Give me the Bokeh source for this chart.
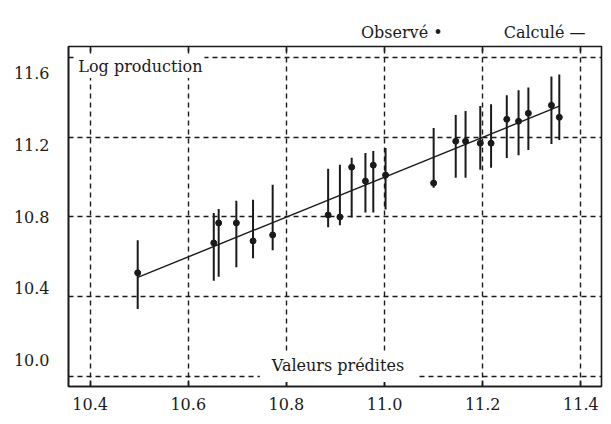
from bokeh.plotting import figure
from bokeh.models import (LinearAxis, Range1d, FixedTicker, Grid, Label,
                          NumeralTickFormatter, ColumnDataSource,
                          CustomJSTickFormatter)
from bokeh.embed import file_html
from bokeh.resources import INLINE

# ---- data ----
pred = [10.497, 10.652, 10.662, 10.698, 10.732, 10.772, 10.885, 10.909, 10.933,
        10.961, 10.977, 11.002, 11.100, 11.145, 11.165, 11.195, 11.217, 11.249,
        11.273, 11.293, 11.340, 11.356]
observed = [10.52, 10.67, 10.77, 10.77, 10.68, 10.71, 10.81, 10.80, 11.05,
            10.98, 11.06, 11.01, 10.97, 11.18, 11.18, 11.17, 11.17, 11.29,
            11.28, 11.32, 11.36, 11.30]
upper = [10.683, 10.82, 10.84, 10.882, 10.887, 10.962, 11.042, 11.062, 11.097,
         11.121, 11.131, 11.146, 11.246, 11.311, 11.331, 11.356, 11.366, 11.41,
         11.435, 11.45, 11.505, 11.515]
lower = [10.339, 10.48, 10.50, 10.548, 10.593, 10.633, 10.748, 10.758, 10.797,
         10.822, 10.822, 10.837, 10.947, 10.997, 10.997, 11.037, 11.047, 11.096,
         11.11, 11.136, 11.166, 11.186]
calc_x = [10.497, 11.356]
calc_y = [10.497, 11.356]
x_ticks = [10.4, 10.6, 10.8, 11.0, 11.2, 11.4]
y_ticks = [10.0, 10.4, 10.8, 11.2, 11.6]

FONT = "DejaVu Serif"
INK = "#1a1a1a"
NB = "\u00a0"

p = figure(width=603, height=416, output_backend="svg", toolbar_location=None,
           x_range=Range1d(10.356, 11.442), y_range=Range1d(9.950, 11.655),
           x_axis_location=None, y_axis_location=None,
           min_border_left=68, min_border_right=2, min_border_top=46,
           min_border_bottom=30)
p.background_fill_color = "white"
p.border_fill_color = "white"
p.outline_line_color = INK
p.outline_line_width = 1.6

# legend line written as a title above the frame, right aligned
p.title.text = "Observé" + NB + "•" + NB * 12 + "Calculé" + NB + "—"
p.title.align = "right"
p.title.text_font = FONT
p.title.text_font_style = "normal"
p.title.text_font_size = "16px"
p.title.text_color = INK
p.title.offset = 16

# remove default grids
for r in list(p.center):
    if isinstance(r, Grid):
        p.center.remove(r)

xt = FixedTicker(ticks=x_ticks)
yt = FixedTicker(ticks=y_ticks)
for dim, tk in ((0, xt), (1, yt)):
    g = Grid(dimension=dim, ticker=tk, grid_line_color=INK,
             grid_line_dash="5 4", grid_line_width=1.4)
    p.add_layout(g)

# bottom axis
bx = LinearAxis(ticker=xt, formatter=NumeralTickFormatter(format="0.0"),
                major_tick_in=6, major_tick_out=0, minor_tick_line_color=None,
                axis_line_color=INK, axis_line_width=1.6, major_tick_line_width=1.6,
                major_tick_line_color=INK,
                major_label_standoff=11, major_label_text_font=FONT,
                major_label_text_font_size="16px", major_label_text_color=INK)
p.add_layout(bx, "below")

# top axis (ticks only)
tx = LinearAxis(ticker=xt, major_tick_in=5, major_tick_out=0,
                formatter=CustomJSTickFormatter(code="return ''"),
                minor_tick_line_color=None, axis_line_color=INK,
                major_tick_line_color=INK, major_tick_line_width=1.6,
                major_label_standoff=11)
p.add_layout(tx, "above")

# left label axis (labels are placed on their own range as in the original)
p.extra_y_ranges = {"lab": Range1d(9.85, 11.75)}
ly = LinearAxis(y_range_name="lab", ticker=yt,
                formatter=NumeralTickFormatter(format="0.0"),
                major_tick_in=0, major_tick_out=0, minor_tick_line_color=None,
                axis_line_color=INK, axis_line_width=1.6,
                major_label_standoff=19, major_label_text_font=FONT,
                major_label_text_font_size="16px", major_label_text_color=INK)
p.add_layout(ly, "left")

# error bars, calc line, observed points
src = ColumnDataSource(dict(x=pred, obs=observed, lo=lower, hi=upper))
p.segment(x0="x", y0="lo", x1="x", y1="hi", source=src, line_color=INK,
          line_width=2.0)
p.line(calc_x, calc_y, line_color=INK, line_width=1.4)
p.scatter("x", "obs", source=src, size=6, color=INK)

# inner labels
p.add_layout(Label(x=10.372, y=11.555, text="Log production", text_font=FONT,
                   text_font_size="16px", text_color=INK, text_baseline="middle",
                   background_fill_color="white", padding=2))
p.add_layout(Label(x=10.905, y=10.045, text="Valeurs prédites", text_font=FONT,
                   text_font_size="16px", text_color=INK, text_baseline="middle",
                   text_align="center", background_fill_color="white",
                   padding=dict(left=12, right=12, top=3, bottom=7)))

open("out.html", "w").write(file_html(p, INLINE))
